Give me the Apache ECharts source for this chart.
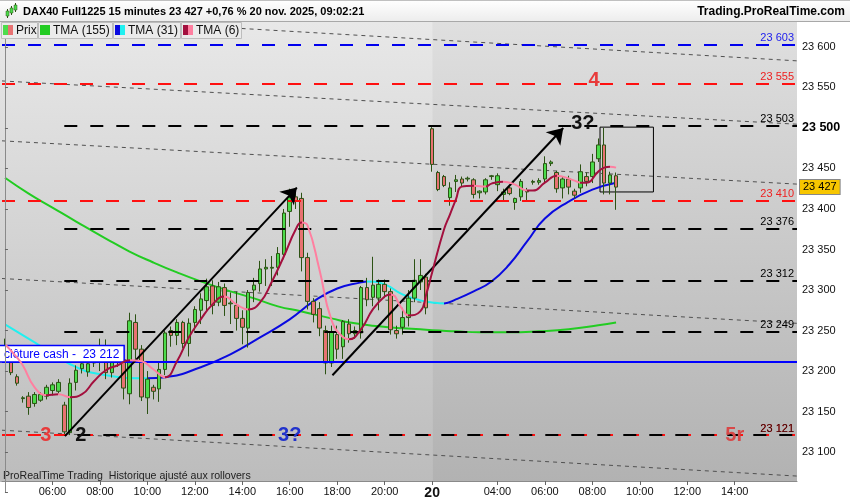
<!DOCTYPE html>
<html><head><meta charset="utf-8">
<script src="https://cdn.jsdelivr.net/npm/echarts@6/dist/echarts.min.js"></script>
<style>html,body{margin:0;padding:0;background:#fff}#c{width:850px;height:500px}</style>
</head><body><div id="c"></div>
<script>
// ---------------- DATA ----------------
// sessions: day 19 from 04:00 (72 bars of 15 min), day 20 from 01:15 (62 bars)
const sessionDays = [19, 20];
const sessionStarts = ['04:00', '01:15'];
const sessionCounts = [72, 62];

const opens  = [23228,23211,23193,23166,23169,23160,23164,23169,23176,23175,23158,23124,23186,23203,23199,23210,23215,23228,23198,23212,23214,23172,23260,23227,23167,23180,23178,23202,23250,23244,23260,23234,23260,23275,23287,23305,23285,23303,23283,23281,23265,23253,23300,23308,23326,23327,23328,23344,23397,23415,23413,23340,23286,23277,23250,23210,23245,23230,23258,23246,23247,23303,23291,23290,23307,23298,23250,23254,23266,23290,23310,23316,
                23499,23445,23440,23414,23434,23437,23437,23436,23420,23421,23440,23430,23418,23426,23408,23415,23421,23433,23433,23437,23456,23445,23426,23437,23422,23426,23440,23440,23462,23479,23432,23441];
const closes = [23220,23198,23185,23167,23155,23171,23171,23180,23183,23186,23125,23185,23201,23209,23209,23222,23230,23198,23215,23218,23179,23262,23227,23168,23190,23175,23202,23247,23244,23260,23234,23259,23276,23289,23304,23281,23304,23281,23284,23265,23254,23297,23306,23326,23328,23328,23345,23395,23414,23410,23340,23286,23270,23253,23210,23248,23227,23261,23246,23250,23303,23288,23306,23307,23298,23251,23246,23266,23290,23312,23318,23278,
                23455,23424,23429,23426,23436,23432,23438,23418,23422,23436,23441,23441,23421,23419,23413,23434,23422,23434,23435,23456,23458,23425,23437,23427,23417,23446,23434,23458,23479,23432,23442,23427];
const lows   = [23212,23195,23182,23161,23146,23156,23162,23165,23170,23172,23121,23121,23176,23197,23193,23205,23200,23190,23192,23205,23165,23159,23215,23163,23147,23165,23162,23195,23230,23232,23228,23218,23250,23258,23275,23270,23280,23268,23258,23250,23233,23229,23285,23298,23305,23305,23318,23338,23378,23400,23323,23276,23260,23243,23196,23205,23215,23215,23235,23240,23240,23280,23280,23275,23290,23245,23240,23245,23255,23285,23300,23270,
                23446,23422,23427,23404,23421,23428,23434,23413,23413,23418,23436,23422,23410,23417,23399,23410,23409,23430,23430,23433,23453,23420,23413,23418,23413,23420,23428,23432,23458,23418,23418,23399];
const highs  = [23240,23228,23196,23169,23174,23174,23174,23183,23186,23190,23162,23191,23207,23214,23215,23228,23240,23239,23222,23226,23222,23272,23270,23232,23200,23183,23210,23250,23255,23264,23262,23265,23280,23296,23314,23312,23310,23308,23297,23298,23275,23300,23315,23336,23338,23342,23353,23400,23425,23424,23420,23346,23290,23285,23256,23256,23256,23263,23264,23255,23305,23315,23341,23313,23313,23302,23256,23278,23300,23338,23338,23320,
                23501,23447,23442,23433,23442,23440,23440,23438,23423,23438,23442,23444,23425,23428,23414,23437,23426,23436,23438,23465,23460,23447,23440,23441,23425,23455,23445,23468,23487,23500,23446,23445];
const lastPrice = 23427;

// moving averages: [bar index, value]
const tma155 = [[0,23438.6],[4,23419],[8,23401.7],[12,23384.5],[17,23363.5],[21,23347.5],[25,23334],[29,23321.7],[33,23310.6],[38,23298.3],[42,23289.7],[46,23279.8],[50,23273.6],[55,23265],[59,23258.9],[63,23255.2],[67,23252.7],[70,23251.5],[72,23250.2],[76,23249],[80,23247.8],[85,23247.8],[90,23249],[95,23251.5],[100,23256.4],[103,23260]];
const tma31 = [[0,23257.6],[5,23235.5],[11,23208.4],[16,23196.1],[24,23191.2],[27,23192.4],[33,23204.7],[38,23220.7],[43,23241.6],[48,23263.8],[52,23285.9],[56,23301.9],[60,23309.4],[61,23310.6],[64,23306.9],[67,23294.6],[70,23287.2],[72,23284.7],[74,23283.5],[76,23288.4],[79,23298.3],[82,23310.6],[85,23331.5],[88,23359.9],[91,23388.2],[95,23409.1],[99,23423.9],[103,23432.5]];
const tma6 = [[0,23233],[2,23217],[3,23207.1],[5,23180],[7,23170.2],[9,23171.4],[11,23167.7],[13,23171.4],[15,23187.4],[17,23201],[19,23207.1],[21,23213.3],[23,23212.1],[25,23202.2],[27,23192.4],[29,23212.1],[31,23241.6],[33,23263.8],[35,23282.3],[37,23292.1],[39,23282.3],[41,23276.1],[43,23284.7],[45,23310.6],[47,23341.4],[49,23374.6],[50,23383.3],[51,23379.6],[53,23325.4],[55,23263.8],[57,23241.6],[58,23239.2],[60,23251.5],[62,23276.1],[64,23292.1],[65,23294.6],[67,23276.1],[68,23268.7],[70,23273.6],[71,23294.6],[72,23321.7],[74,23374.6],[75,23393.1],[76,23411.6],[77,23427.6],[79,23428.8],[81,23427.6],[82,23431.3],[84,23433.7],[86,23430],[88,23422.7],[89,23422.7],[91,23432.5],[93,23441.1],[94,23439.9],[96,23435],[97,23432.5],[98,23432.5],[100,23446.1],[101,23451],[102,23452.2],[103,23451]];

// horizontal levels
const blueLevels = [23603];
const redLevels = [23555, 23410, 23121];
const blackLevels = [23503, 23376, 23312, 23249, 23121];
const blackLevelStart = 10;
const cashLevel = 23212;
const cashText = 'clôture cash -  23 212';

// dotted trend lines [[x1,y1],[x2,y2]] in (bar index, price)
const trendLines = [
  [[-0.5,23640],[133.5,23582.8]],
  [[-0.5,23558],[133.5,23504.6]],
  [[-0.5,23484.1],[133.5,23430.7]],
  [[-0.5,23314.2],[133.5,23258.9]],
  [[-0.5,23127],[133.5,23070.4]]
];
// arrows
const arrows = [
  [[10.1,23119.7],[49.2,23426.4]],
  [[55.2,23194.8],[94.1,23499.9]]
];
// box
const boxArea = [[100.3,23501],[109.3,23421]];
// text notes: [index, price, text]
const notes = [
  [6.9,23121,'3'],[12.8,23121,'2'],[48,23121,'3?'],[123,23120,'5r'],[99.3,23559,'4'],[97.4,23506,'3?']
];
const noteColors = ['#e83a3a','#111','#2233cc','#d84848','#e83a3a','#111'];

// ---------------- BUILD ----------------
const FONT = "'Liberation Sans', Arial, sans-serif";
const cats = [], catDay = [], catH = [], catM = [];
sessionDays.forEach((d, s) => {
  let [h, m] = sessionStarts[s].split(':').map(Number);
  for (let k = 0; k < sessionCounts[s]; k++) {
    cats.push(d + ' ' + String(h).padStart(2,'0') + ':' + String(m).padStart(2,'0'));
    catDay.push(d); catH.push(h); catM.push(m);
    m += 15; if (m >= 60) { m -= 60; h += 1; }
  }
});
const firstDay20 = catDay.indexOf(20);
function showLabel(i) {
  if (i === firstDay20) return true;
  if (catM[i] !== 0 || catH[i] % 2 !== 0) return false;
  if (catDay[i] === 19) return catH[i] >= 6;
  return catH[i] >= 4 && catH[i] <= 14;
}
const candleData = opens.map((o, i) => [o, closes[i], lows[i], highs[i]]);
const N = cats.length;
const fmt = v => String(Math.round(v)).replace(/\B(?=(\d{3})+(?!\d))/g, ' ');

function dirPieces(pts, upColor, downColor) {
  const pieces = [];
  for (let k = 0; k < pts.length - 1; k++) {
    const up = pts[k+1][1] >= pts[k][1];
    const piece = { gte: pts[k][0], lt: pts[k+1][0], color: up ? upColor : downColor };
    if (k === pts.length - 2) { delete piece.lt; piece.lte = pts[k+1][0] + 1; }
    pieces.push(piece);
  }
  return pieces;
}

const levelLines = [];
blueLevels.forEach(v => levelLines.push({ yAxis: v, lineStyle: { color: '#0000ee', type: [13, 13], width: 2 },
  label: { show: true, position: 'insideEndTop', formatter: fmt(v), color: '#2020ee', fontSize: 11, fontFamily: FONT, distance: [3, 1] } }));
redLevels.forEach(v => levelLines.push({ yAxis: v, lineStyle: { color: '#ff1010', type: [13, 13], width: 2 },
  label: { show: true, position: 'insideEndTop', formatter: fmt(v), color: '#ee2020', fontSize: 11, fontFamily: FONT, distance: [3, 1] } }));
blackLevels.forEach(v => levelLines.push([
  { coord: [blackLevelStart, v], lineStyle: { color: '#000', type: [13, 13], dashOffset: redLevels.includes(v) ? 13 : 0, width: 2 },
    label: { show: true, position: 'insideEndTop', formatter: fmt(v), color: redLevels.includes(v) ? '#3a0808' : '#000', fontSize: 11, fontFamily: FONT, distance: [3, 1] } },
  { coord: [N - 0.5, v] }
]));
levelLines.push({ yAxis: cashLevel, lineStyle: { color: '#0000ff', type: 'solid', width: 2 },
  label: { show: true, position: 'insideStartTop', formatter: cashText, color: '#0000ff', fontSize: 12, fontFamily: FONT,
    backgroundColor: '#fff', borderColor: '#0000ff', borderWidth: 1.5, padding: [2, 4, 1, 4], distance: [-2, 0] } });
arrows.forEach(a => levelLines.push([
  { coord: a[0], symbol: 'none', lineStyle: { color: '#000', width: 2, type: 'solid' }, label: { show: false } },
  { coord: a[1], symbol: 'arrow', symbolSize: 15 }
]));
levelLines.push({ yAxis: lastPrice, lineStyle: { width: 0, color: 'rgba(0,0,0,0)' },
  label: { show: true, position: 'end', formatter: fmt(lastPrice), color: '#000', fontSize: 11, fontFamily: FONT,
    backgroundColor: '#f7c600', borderColor: '#888', borderWidth: 1, padding: [2, 3, 1, 3], distance: 3 } });

const series = [
  { name: 'bg', type: 'line', xAxisIndex: 1, data: [[0, 23300]], symbol: 'none', lineStyle: { opacity: 0 }, silent: true, z: 1,
    markLine: { silent: true, symbol: 'none', animation: false, data: levelLines },
    markArea: { silent: true, data: [[{ coord: boxArea[0], itemStyle: { color: 'rgba(0,0,0,0)', borderColor: '#000', borderWidth: 1 } }, { coord: boxArea[1] }]] },
    markPoint: { silent: true, symbol: 'rect', symbolSize: 1, itemStyle: { color: 'rgba(0,0,0,0)' },
      data: notes.map((n, k) => ({ coord: [n[0], n[1]], value: n[2],
        label: { show: true, position: 'inside', formatter: n[2], color: noteColors[k], fontSize: 20, fontWeight: 'bold', fontFamily: FONT } })) } },
  ...trendLines.map(t => ({ type: 'line', xAxisIndex: 1, data: t, symbol: 'none', silent: true, z: 2,
    lineStyle: { color: '#505050', width: 1, type: [4, 4] } })),
  { name: 'TMA (155)', type: 'line', xAxisIndex: 1, data: tma155, smooth: true, symbol: 'none', lineStyle: { color: '#22cc22', width: 2 }, z: 3 },
  { name: 'TMA (31)', type: 'line', xAxisIndex: 1, data: tma31, smooth: true, symbol: 'none', lineStyle: { width: 2 }, z: 3 },
  { name: 'Prix', type: 'candlestick', data: candleData, barWidth: 4, z: 4,
    itemStyle: { color: '#4cdc4c', color0: '#e87272', borderColor: '#2c5214', borderColor0: '#2c5214', borderWidth: 1 } },
  { name: 'TMA (6)', type: 'line', xAxisIndex: 1, data: tma6, smooth: true, symbol: 'none', lineStyle: { width: 2 }, z: 5 },
  { name: 'tag', type: 'line', xAxisIndex: 1, data: [[0, lastPrice]], symbol: 'none', lineStyle: { opacity: 0 }, silent: true, z: 20,
    markLine: { silent: true, symbol: 'none', animation: false, data: [
      { yAxis: lastPrice, lineStyle: { width: 0, color: 'rgba(0,0,0,0)' },
        label: { show: true, position: 'end', formatter: fmt(lastPrice), color: '#000', fontSize: 11, fontFamily: FONT,
          backgroundColor: '#f7c600', borderColor: '#888', borderWidth: 1, padding: [2, 3, 1, 3], distance: 3 } } ] } }
];
const idx31 = series.findIndex(s => s.name === 'TMA (31)');
const idx6 = series.findIndex(s => s.name === 'TMA (6)');

const option = {
  animation: false,
  backgroundColor: '#fff',
  textStyle: { fontFamily: FONT },
  grid: { left: 2, right: 53, top: 6.4, bottom: 6.4, containLabel: false },
  xAxis: [
    { type: 'category', data: cats, boundaryGap: true, offset: -11.6, z: 10,
      axisLine: { show: true, lineStyle: { color: '#8a8a8a', width: 1 } },
      axisTick: { show: true, interval: showLabel, alignWithLabel: true, length: 4, lineStyle: { color: '#666' } },
      axisLabel: { interval: showLabel, margin: 5, color: '#111', fontSize: 11, fontFamily: FONT,
        formatter: (v, i) => i === firstDay20 ? '{d|20}' : v.split(' ')[1],
        rich: { d: { fontSize: 14, fontWeight: 'bold', color: '#111', fontFamily: FONT } } },
      splitLine: { show: false } },
    { type: 'value', min: -0.5, max: N - 0.5, show: false }
  ],
  yAxis: [{ type: 'value', position: 'right', min: 23050, max: 23650, interval: 50, z: 10,
    axisLine: { show: true, lineStyle: { color: '#8a8a8a' } },
    axisTick: { show: true, length: 3, lineStyle: { color: '#666' } },
    axisLabel: { margin: 5, color: '#111', fontSize: 11, fontFamily: FONT,
      formatter: v => (v <= 23050 || v >= 23650) ? '' : (v === 23500 ? '{b|' + fmt(v) + '}' : fmt(v)),
      rich: { b: { fontSize: 12.5, fontWeight: 'bold', color: '#000', fontFamily: FONT } } },
    splitLine: { show: false } }],
  visualMap: [
    { type: 'piecewise', show: false, dimension: 0, seriesIndex: idx31, pieces: dirPieces(tma31, '#0a0ae0', '#20f0f0') },
    { type: 'piecewise', show: false, dimension: 0, seriesIndex: idx6, pieces: dirPieces(tma6, '#a3103e', '#ff7fa0') }
  ],
  series: series
};
// remove duplicate tag from level lines (tag drawn by its own series)
levelLines.pop();

const chart = echarts.init(document.getElementById('c'), null, { renderer: 'canvas', width: 850, height: 500 });
chart.setOption(option);

// chrome (background, header, legend)
const bx = chart.convertToPixel({ xAxisIndex: 1 }, firstDay20);
const grad = (a, b) => new echarts.graphic.LinearGradient(0, 0, 0, 1, [{ offset: 0, color: a }, { offset: 1, color: b }]);
const legendItems = [
  { x: 1, w: 37, c1: '#4cdc4c', c2: '#e87272', t: 'Prix' },
  { x: 38, w: 75, c1: '#22cc22', c2: '#22cc22', t: 'TMA (155)' },
  { x: 113, w: 68, c1: '#0a0ae0', c2: '#20f0f0', t: 'TMA (31)' },
  { x: 181, w: 61, c1: '#a3103e', c2: '#ff7fa0', t: 'TMA (6)' }
];
const g = [
  { type: 'rect', z: -5, silent: true, shape: { x: 0, y: 22, width: bx, height: 460 }, style: { fill: grad('#e8e8e8', '#bcbcbc') } },
  { type: 'rect', z: -5, silent: true, shape: { x: bx, y: 22, width: 797 - bx, height: 460 }, style: { fill: grad('#dfdfdf', '#b2b2b2') } },
  { type: 'rect', z: 6, silent: true, shape: { x: 0, y: 482.5, width: 797, height: 18 }, style: { fill: '#fff' } },
  { type: 'text', z: 7, silent: true, x: 3, y: 476, style: { text: 'ProRealTime Trading  Historique ajusté aux rollovers', fill: '#222', font: "10.6px 'Liberation Sans Narrow', 'Liberation Sans', Arial", textVerticalAlign: 'middle' } },
  { type: 'rect', z: 100, silent: true, shape: { x: 0, y: 0, width: 850, height: 22 }, style: { fill: grad('#ffffff', '#ececec'), stroke: null } },
  { type: 'line', z: 101, silent: true, shape: { x1: 0, y1: 21.5, x2: 850, y2: 21.5 }, style: { stroke: '#a8a8a8', lineWidth: 1 } },
  { type: 'line', z: 101, silent: true, shape: { x1: 0, y1: 0.5, x2: 850, y2: 0.5 }, style: { stroke: '#c0c0c0', lineWidth: 1 } },
  // header icon
  { type: 'line', z: 101, silent: true, shape: { x1: 7.5, y1: 9, x2: 7.5, y2: 18 }, style: { stroke: '#2c5214' } },
  { type: 'rect', z: 102, silent: true, shape: { x: 6, y: 11, width: 3, height: 5 }, style: { fill: '#4cdc4c', stroke: '#2c5214', lineWidth: 0.5 } },
  { type: 'line', z: 101, silent: true, shape: { x1: 11.5, y1: 6, x2: 11.5, y2: 15 }, style: { stroke: '#2c5214' } },
  { type: 'rect', z: 102, silent: true, shape: { x: 10, y: 8, width: 3, height: 5 }, style: { fill: '#4cdc4c', stroke: '#2c5214', lineWidth: 0.5 } },
  { type: 'line', z: 101, silent: true, shape: { x1: 15.5, y1: 3, x2: 15.5, y2: 12 }, style: { stroke: '#2c5214' } },
  { type: 'rect', z: 102, silent: true, shape: { x: 14, y: 5, width: 3, height: 5 }, style: { fill: '#4cdc4c', stroke: '#2c5214', lineWidth: 0.5 } },
  { type: 'text', z: 101, silent: true, x: 23, y: 12, style: { text: 'DAX40 Full1225 15 minutes 23 427 +0,76 % 20 nov. 2025, 09:02:21', fill: '#000', font: "bold 11px 'Liberation Sans', Arial", textVerticalAlign: 'middle' } },
  { type: 'text', z: 101, silent: true, x: 845, y: 12, style: { text: 'Trading.ProRealTime.com', fill: '#000', font: "bold 12px 'Liberation Sans', Arial", textAlign: 'right', textVerticalAlign: 'middle' } }
];
legendItems.forEach(it => {
  g.push({ type: 'rect', z: 100, silent: true, shape: { x: it.x + 0.5, y: 22.5, width: it.w - 1, height: 16 }, style: { fill: '#ebebeb', stroke: '#bdbdbd', lineWidth: 1 } });
  g.push({ type: 'rect', z: 101, silent: true, shape: { x: it.x + 2, y: 25, width: 5, height: 10 }, style: { fill: it.c1 } });
  g.push({ type: 'rect', z: 101, silent: true, shape: { x: it.x + 7, y: 25, width: 5, height: 10 }, style: { fill: it.c2 } });
  g.push({ type: 'text', z: 101, silent: true, x: it.x + 15, y: 30.5, style: { text: it.t, fill: '#111', font: "12px 'Liberation Sans', Arial", textVerticalAlign: 'middle' } });
});
chart.setOption({ graphic: g });
</script></body></html>
